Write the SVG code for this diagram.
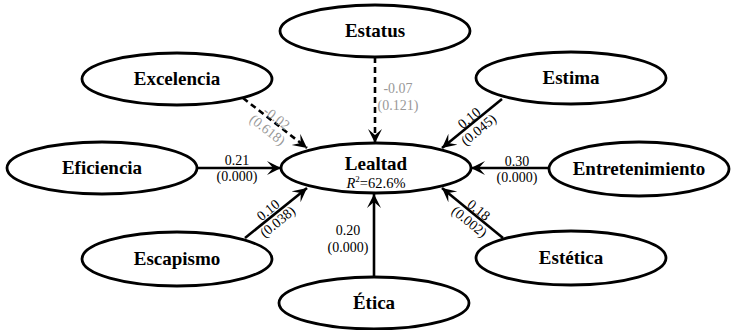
<svg xmlns="http://www.w3.org/2000/svg" width="734" height="330" viewBox="0 0 734 330">
<style>
.node ellipse{fill:#fff;stroke:#000;stroke-width:2.8}
.node text{font-family:"Liberation Serif","Times New Roman",serif;font-weight:bold;font-size:19px;text-anchor:middle;fill:#000}
.edge{stroke:#000;stroke-width:2.6;fill:none;marker-end:url(#arr)}
.dash{stroke-dasharray:6,4}
.lbl{font-family:"Liberation Serif","Times New Roman",serif;font-size:14px;text-anchor:middle;fill:#000}
.grey{fill:#999}
</style>
<defs>
<marker id="arr" markerUnits="userSpaceOnUse" markerWidth="16" markerHeight="16" refX="14" refY="7" orient="auto">
<path d="M0,0 L14,7 L0,14 L6,7 Z" fill="#000"/>
</marker>
</defs>
<rect width="734" height="330" fill="#fff"/>
<g id="connectors">
<line class="edge dash" x1="375" y1="57" x2="375" y2="143"/>
<line class="edge dash" x1="243" y1="98" x2="307" y2="148"/>
<line class="edge" x1="502" y1="99" x2="442" y2="148"/>
<line class="edge" x1="197" y1="168" x2="281" y2="168"/>
<line class="edge" x1="549" y1="168" x2="471" y2="168"/>
<line class="edge" x1="245" y1="238" x2="307" y2="188"/>
<line class="edge" x1="503" y1="238" x2="442" y2="188"/>
<line class="edge" x1="374" y1="277" x2="374" y2="194"/>
<text class="lbl grey" x="398" y="93">-0.07</text>
<text class="lbl grey" x="398" y="110">(0.121)</text>
<g transform="translate(272,124) rotate(38)">
<text class="lbl grey" x="0" y="-3">-0.02</text>
<text class="lbl grey" x="0" y="12">(0.618)</text>
</g>
<g transform="translate(474,124) rotate(-39)">
<text class="lbl" x="0" y="-3">0.10</text>
<text class="lbl" x="0" y="12">(0.045)</text>
</g>
<text class="lbl" x="237" y="165">0.21</text>
<text class="lbl" x="237" y="181">(0.000)</text>
<text class="lbl" x="517" y="166">0.30</text>
<text class="lbl" x="517" y="182">(0.000)</text>
<g transform="translate(273,216) rotate(-39)">
<text class="lbl" x="0" y="-3">0.10</text>
<text class="lbl" x="0" y="12">(0.038)</text>
</g>
<g transform="translate(474,216) rotate(39)">
<text class="lbl" x="0" y="-3">0.18</text>
<text class="lbl" x="0" y="12">(0.002)</text>
</g>
<text class="lbl" x="348" y="235">0.20</text>
<text class="lbl" x="348" y="252">(0.000)</text>
</g>
<g id="estatus" class="node"><ellipse cx="375" cy="31" rx="95" ry="26"/><text x="375" y="37">Estatus</text></g>
<g id="excelencia" class="node"><ellipse cx="177" cy="79" rx="95" ry="26"/><text x="177" y="85">Excelencia</text></g>
<g id="estima" class="node"><ellipse cx="571" cy="78" rx="95" ry="26"/><text x="571" y="84">Estima</text></g>
<g id="eficiencia" class="node"><ellipse cx="102" cy="168" rx="95" ry="26"/><text x="102" y="174">Eficiencia</text></g>
<g id="lealtad" class="node"><ellipse cx="376" cy="168" rx="95" ry="25"/><text x="376" y="170">Lealtad</text>
<text x="376" y="188" style="font-weight:normal;font-size:14.5px"><tspan font-style="italic">R</tspan><tspan font-size="9" dy="-6">2</tspan><tspan dy="6">=62.6%</tspan></text></g>
<g id="entretenimiento" class="node"><ellipse cx="639" cy="169" rx="90" ry="27"/><text x="639" y="175">Entretenimiento</text></g>
<g id="escapismo" class="node"><ellipse cx="177" cy="259" rx="95" ry="27"/><text x="177" y="265">Escapismo</text></g>
<g id="estetica" class="node"><ellipse cx="571" cy="258" rx="95" ry="27"/><text x="571" y="264">Estética</text></g>
<g id="etica" class="node"><ellipse cx="374" cy="303" rx="95" ry="26"/><text x="374" y="309">Ética</text></g>
</svg>
